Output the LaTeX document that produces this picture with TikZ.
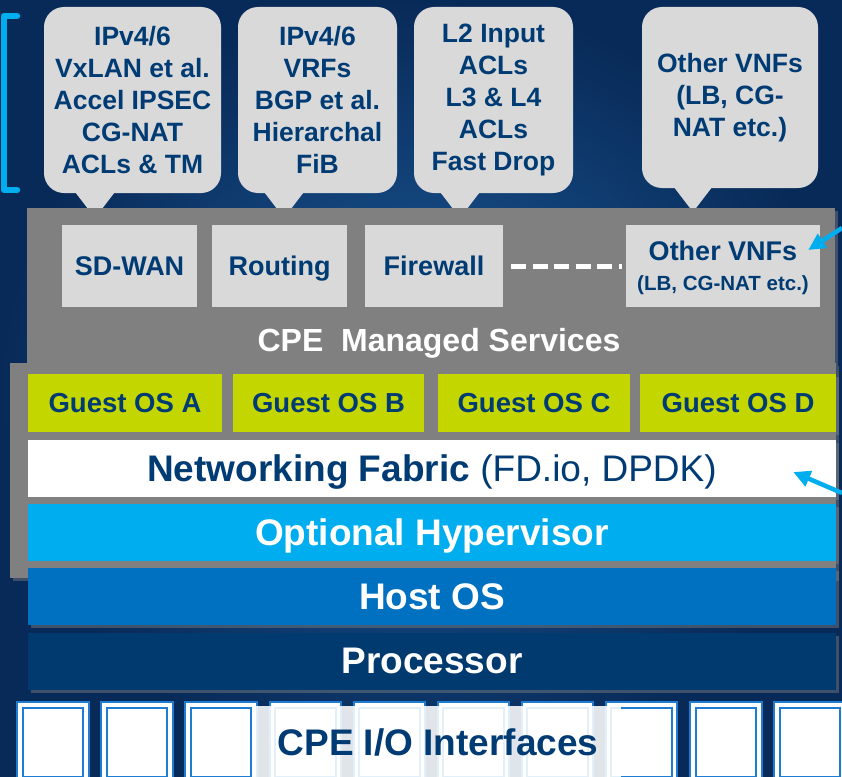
\documentclass[tikz,border=0pt]{standalone}
\usepackage{fontspec}
\setmainfont{Liberation Sans}
\usetikzlibrary{shapes,arrows.meta,shadows}
\definecolor{navy}{RGB}{0,59,115}
\definecolor{calloutgray}{RGB}{217,217,217}
\definecolor{panelgray}{RGB}{128,128,128}
\definecolor{guestgreen}{RGB}{196,214,0}
\definecolor{hypercyan}{RGB}{0,174,239}
\definecolor{hostblue}{RGB}{0,112,192}
\definecolor{procnavy}{RGB}{0,58,110}
\definecolor{ioblue}{RGB}{30,125,210}
\definecolor{bgdark}{RGB}{8,42,88}
\definecolor{bglight}{RGB}{28,92,155}

\begin{document}
\begin{tikzpicture}[x=1pt,y=-1pt,
  callout/.style={fill=calloutgray, rounded corners=20pt, inner sep=0pt, text=navy, align=center, font=\bfseries\fontsize{26.5}{32}\selectfont},
  vnf/.style={fill=calloutgray, minimum height=82pt, inner sep=0pt, text depth=0pt, text=navy, align=center, font=\bfseries\fontsize{27}{30}\selectfont},
  panel/.style={fill=panelgray, inner sep=0pt, drop shadow={shadow xshift=3pt, shadow yshift=-3pt, opacity=.45}},
  guest/.style={fill=guestgreen, minimum height=58pt, inner sep=0pt, text depth=0pt, text=navy, font=\bfseries\fontsize{27.5}{30}\selectfont, drop shadow={shadow xshift=3pt, shadow yshift=-3pt, opacity=.45}},
  layer/.style={minimum width=808pt, minimum height=57pt, inner sep=0pt, text depth=0pt, text=white, font=\bfseries\fontsize{37}{40}\selectfont, drop shadow={shadow xshift=3pt, shadow yshift=-3pt, opacity=.45}},
  ioport/.style={fill=white, draw=ioblue, line width=2pt, double=white, double distance=3.5pt, minimum width=66pt, minimum height=75pt, inner sep=0pt},
  pointer/.style={-{Triangle[length=17pt,width=16pt]}, line width=4.5pt, draw=hypercyan}]
\useasboundingbox (0,0) rectangle (842,776);
\shade [inner color=bglight, outer color=bgdark] (0,0) rectangle (842,776);
\draw [hypercyan, line width=6.5pt, line cap=round, line join=round] (17,16) -- (4,16) -- (4,190) -- (17,190);
\node (CALLSDWAN) [callout, minimum width=177pt, minimum height=186pt] at (132.5,100) {IPv4/6\\VxLAN et al.\\Accel IPSEC\\CG-NAT\\ACLs \& TM};
\node (CALLROUTE) [callout, minimum width=159pt, minimum height=186pt] at (317.5,100) {IPv4/6\\VRFs\\BGP et al.\\Hierarchal\\FiB};
\node (CALLFW) [callout, minimum width=159pt, minimum height=186pt] at (493.5,100) {L2 Input\\ACLs\\L3 \& L4\\ACLs\\Fast Drop};
\node (CALLOTHER) [callout, minimum width=176pt, minimum height=181pt] at (730,97.5) {Other VNFs\\(LB, CG-\\NAT etc.)};
\foreach \x/\y in {95/218, 284/218, 460/218, 693/212}
  \fill [calloutgray] (\x,\y) -- ++(-23,-30) -- ++(46,0) -- cycle;
\node (LOWER) [panel, minimum width=826pt, minimum height=215pt] at (423,470.5) {};
\node (MANAGED) [panel, minimum width=808pt, minimum height=155pt] at (431,285.5) {};
\node (MANAGEDTXT) [text=white, font=\bfseries\fontsize{32}{34}\selectfont] at (439,343) {CPE\ \ Managed Services};
\node (SDWAN) [vnf, minimum width=135pt] at (129.5,266) {SD-WAN};
\node (ROUTING) [vnf, minimum width=135pt] at (279.5,266) {Routing};
\node (FIREWALL) [vnf, minimum width=138pt] at (434,266) {Firewall};
\node (OTHERVNF) [vnf, minimum width=194pt] at (723,266) {Other VNFs\\{\fontsize{20.5}{26}\selectfont (LB, CG-NAT etc.)}};
\draw [white, line width=5pt, dash pattern=on 15pt off 6.5pt, shorten <=8pt, shorten >=4pt] (FIREWALL) to (OTHERVNF);
\node (GUESTA) [guest, minimum width=194pt] at (125,403) {Guest OS A};
\node (GUESTB) [guest, minimum width=191pt] at (328.5,403) {Guest OS B};
\node (GUESTC) [guest, minimum width=192pt] at (534,403) {Guest OS C};
\node (GUESTD) [guest, minimum width=196pt] at (738,403) {Guest OS D};
\node (FABRIC) [layer, fill=white, text=navy] at (432,468) {Networking Fabric {\mdseries (FD.io, DPDK)}};
\node (HYPER) [layer, fill=hypercyan] at (432,532.5) {Optional Hypervisor};
\node (HOST) [layer, fill=hostblue] at (432,596.5) {Host OS};
\node (PROC) [layer, fill=procnavy] at (432,661) {Processor};
\foreach \i in {0,...,9}
  \node (IO\i) [ioport] at (53+84.1*\i,742.5) {};
\node (IOLBL) [fill=white, fill opacity=.88, text opacity=1, text=navy, minimum width=366pt, minimum height=72pt, inner sep=0pt, text depth=0pt, font=\bfseries\fontsize{37}{40}\selectfont] at (438,742) {CPE I/O Interfaces};
\coordinate (VNFARROW) at (842,228);
\coordinate (FABARROW) at (842,493);
\draw [pointer] (VNFARROW) to ([xshift=-12pt,yshift=16pt]OTHERVNF.east);
\draw [pointer] (FABARROW) to ([xshift=-43pt,yshift=-4pt]FABRIC.east);
\end{tikzpicture}
\end{document}
